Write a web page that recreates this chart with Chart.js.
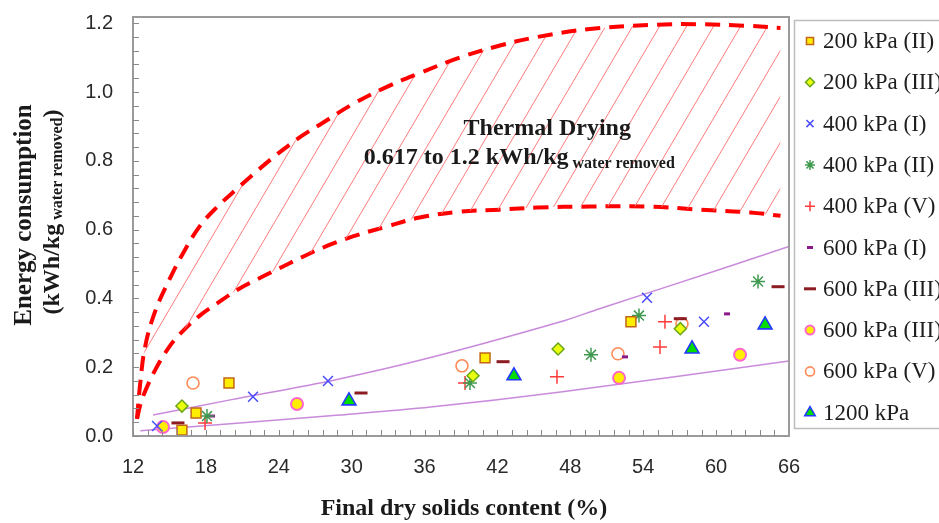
<!DOCTYPE html>
<html>
<head>
<meta charset="utf-8">
<script src="https://cdn.jsdelivr.net/npm/chart.js"></script>
<style>
  html, body { margin: 0; padding: 0; background: #fff; }
  #wrap { width: 939px; height: 523px; position: relative; }
</style>
</head>
<body>
<div id="wrap"><canvas id="chart"></canvas></div>
<script>
// Axis ticks
const xTicks = [12, 18, 24, 30, 36, 42, 48, 54, 60, 66];
const yTicks = [0, 0.2, 0.4, 0.6, 0.8, 1.0, 1.2];

// Thermal drying band (red dashed bounds)
const bandX     = [12.33, 12.6, 13.0, 13.8, 15.0, 16.1, 17.5, 18.9, 20.6, 22.2, 23.9, 25.8, 27.6, 30.1, 32.9, 35.6, 38.9, 42.2, 45.3, 49.6, 54.6, 58.7, 62.8, 65.3];
const bandUpper = [0.05, 0.155, 0.26, 0.36, 0.455, 0.53, 0.61, 0.665, 0.72, 0.77, 0.82, 0.87, 0.91, 0.965, 1.015, 1.055, 1.10, 1.135, 1.16, 1.183, 1.195, 1.197, 1.192, 1.186];
const bandLower = [0.05, 0.09, 0.13, 0.19, 0.26, 0.305, 0.35, 0.385, 0.425, 0.455, 0.485, 0.518, 0.547, 0.58, 0.609, 0.635, 0.652, 0.658, 0.664, 0.667, 0.667, 0.658, 0.650, 0.640];

// Envelope lines (purple)
const envUpperX = [13.65, 20.0, 28.6, 36.5, 47.2, 50.4, 60.3, 66.0];
const envUpperY = [0.061, 0.105, 0.163, 0.228, 0.332, 0.370, 0.484, 0.551];
const envLowerX = [12.6, 29.0, 36.5, 47.2, 66.0];
const envLowerY = [0.015, 0.061, 0.084, 0.128, 0.218];

// Measured points
const p200_II   = [[16.03, 0.017], [17.19, 0.067], [19.90, 0.154], [40.98, 0.227], [52.99, 0.332]];
const p200_III  = [[16.03, 0.087], [39.99, 0.175], [46.99, 0.253], [57.05, 0.312]];
const p400_I    = [[13.98, 0.029], [21.88, 0.114], [28.05, 0.160], [54.31, 0.402], [59.00, 0.332]];
const p400_II   = [[18.09, 0.058], [39.74, 0.154], [49.70, 0.236], [53.65, 0.350], [63.45, 0.449]];
const p400_V    = [[17.93, 0.038], [39.33, 0.154], [46.90, 0.172], [55.38, 0.259], [55.79, 0.332]];
const p600_I    = [[18.50, 0.058], [52.50, 0.230], [60.90, 0.355]];
const p600_IIIa = [[15.70, 0.038], [30.77, 0.125], [42.46, 0.216], [57.05, 0.341], [65.10, 0.434]];
const p600_IIIb = [[14.47, 0.026], [25.50, 0.093], [52.01, 0.169], [61.97, 0.236]];
const p600_V    = [[16.94, 0.154], [39.08, 0.204], [51.92, 0.239], [57.19, 0.326]];
const p1200     = [[29.78, 0.102], [43.36, 0.175], [58.02, 0.253], [64.03, 0.323]];

const toXY = (xs, ys) => xs.map((x, i) => ({ x: x, y: ys[i] }));
const pairs = arr => arr.map(p => ({ x: p[0], y: p[1] }));

// hatch pattern for the thermal drying band
function hatchPattern() {
    const w = 27, h = 46;
    const c = document.createElement('canvas');
    c.width = w; c.height = h;
    const g = c.getContext('2d');
    g.strokeStyle = '#ff7a7a';
    g.lineWidth = 1;
    for (let k = -1; k <= 1; k++) {
        g.beginPath();
        g.moveTo(k * w - w, 2 * h);
        g.lineTo(k * w + 2 * w, -h);
        g.stroke();
    }
    return g.createPattern(c, 'repeat');
}

const scatterDefs = [
    { label: '200 kPa (II)',  data: p200_II,   style: 'rect',     r: 7, lr: 5,   fill: '#ffee00', line: '#c0661a', bw: 1.5 },
    { label: '200 kPa (III)', data: p200_III,  style: 'rectRot',  r: 6, lr: 4.5, fill: '#e8ff10', line: '#6aa618', bw: 1.5 },
    { label: '400 kPa (I)',   data: p400_I,    style: 'crossRot', r: 7, lr: 5,   fill: '#4a4aff', line: '#4a4aff', bw: 1.5 },
    { label: '400 kPa (II)',  data: p400_II,   style: 'star',     r: 7, lr: 5,   fill: '#3f9a4f', line: '#3f9a4f', bw: 1.5 },
    { label: '400 kPa (V)',   data: p400_V,    style: 'cross',    r: 7, lr: 5,   fill: '#ff3b3b', line: '#ff3b3b', bw: 1.5 },
    { label: '600 kPa (I)',   data: p600_I,    style: 'line',     r: 3, lr: 3,   fill: '#8a1a8a', line: '#8a1a8a', bw: 3 },
    { label: '600 kPa (III)', data: p600_IIIa, style: 'line',     r: 6.5, lr: 6, fill: '#8c1c22', line: '#8c1c22', bw: 3 },
    { label: '600 kPa (III)', data: p600_IIIb, style: 'circle',   r: 6, lr: 4.5, fill: '#ffee00', line: '#ff66cc', bw: 2 },
    { label: '600 kPa (V)',   data: p600_V,    style: 'circle',   r: 6, lr: 4.5, fill: '#ffffff', line: '#ff8a55', bw: 1.6 },
    { label: '1200 kPa',      data: p1200,     style: 'triangle', r: 8, lr: 6,   fill: '#00dd00', line: '#2438ff', bw: 1.6 }
];

const datasets = [
    {
        label: 'upper', data: toXY(bandX, bandUpper), showLine: true,
        borderColor: '#ff0000', borderWidth: 4, borderDash: [15, 9], tension: 0.4,
        pointRadius: 0, fill: '+1', backgroundColor: hatchPattern(), order: 3
    },
    {
        label: 'lower', data: toXY(bandX, bandLower), showLine: true,
        borderColor: '#ff0000', borderWidth: 4, borderDash: [15, 9], tension: 0.4,
        pointRadius: 0, fill: false, order: 3
    },
    {
        label: 'envU', data: toXY(envUpperX, envUpperY), showLine: true,
        borderColor: 'rgba(195,125,215,0.9)', borderWidth: 1.5, tension: 0.3,
        pointRadius: 0, fill: false, order: 2
    },
    {
        label: 'envL', data: toXY(envLowerX, envLowerY), showLine: true,
        borderColor: 'rgba(195,125,215,0.9)', borderWidth: 1.5, tension: 0.3,
        pointRadius: 0, fill: false, order: 2
    }
];
scatterDefs.forEach(d => {
    datasets.push({
        label: d.label, data: pairs(d.data), showLine: false, fill: false,
        pointStyle: d.style, pointRadius: d.r, pointHoverRadius: d.r,
        backgroundColor: d.fill, borderColor: d.line, pointBorderWidth: d.bw, borderWidth: d.bw,
        order: 1
    });
});

// frame, inner ticks, titles, annotation and legend
const decor = {
    id: 'decor',
    afterDraw(chart) {
        const ctx = chart.ctx;
        const a = chart.chartArea;
        const xs = chart.scales.x, ys = chart.scales.y;
        ctx.save();

        // frame
        ctx.strokeStyle = '#9a9a9a';
        ctx.lineWidth = 2;
        ctx.strokeRect(a.left, a.top, a.right - a.left, a.bottom - a.top);

        // minor ticks inward
        ctx.strokeStyle = '#8a8a8a';
        ctx.lineWidth = 1;
        ctx.beginPath();
        for (let i = 0; i < yTicks.length - 1; i++) {
            for (let k = 0; k < 5; k++) {
                const v = yTicks[i] + (yTicks[i + 1] - yTicks[i]) * k / 5;
                const py = Math.round(ys.getPixelForValue(v)) + 0.5;
                ctx.moveTo(a.left, py); ctx.lineTo(a.left + 6, py);
            }
        }
        const py12 = Math.round(ys.getPixelForValue(yTicks[yTicks.length - 1])) + 0.5;
        ctx.moveTo(a.left, py12); ctx.lineTo(a.left + 6, py12);
        for (let i = 0; i < xTicks.length - 1; i++) {
            for (let k = 0; k < 5; k++) {
                const v = xTicks[i] + (xTicks[i + 1] - xTicks[i]) * k / 5;
                const px = Math.round(xs.getPixelForValue(v)) + 0.5;
                ctx.moveTo(px, a.bottom); ctx.lineTo(px, a.bottom - 6);
            }
        }
        ctx.stroke();

        ctx.fillStyle = '#1a1a1a';
        // x title
        ctx.font = 'bold 24px "Liberation Serif", "Times New Roman", serif';
        ctx.textAlign = 'center';
        ctx.textBaseline = 'middle';
        ctx.fillText('Final dry solids content (%)', 464, 509);

        // y title
        ctx.save();
        ctx.translate(25, 215);
        ctx.rotate(-Math.PI / 2);
        ctx.font = 'bold 25px "Liberation Serif", "Times New Roman", serif';
        ctx.fillText('Energy consumption', 0, 0);
        ctx.restore();

        ctx.save();
        ctx.translate(53, 212);
        ctx.rotate(-Math.PI / 2);
        const big = 'bold 24px "Liberation Serif", "Times New Roman", serif';
        const small = 'bold 16px "Liberation Serif", "Times New Roman", serif';
        ctx.font = big; const w1 = ctx.measureText('(kWh/kg').width; const w3 = ctx.measureText(')').width;
        ctx.font = small; const w2 = ctx.measureText(' water removed').width;
        let cx = -(w1 + w2 + w3) / 2;
        ctx.textAlign = 'left';
        ctx.font = big; ctx.fillText('(kWh/kg', cx, 0); cx += w1;
        ctx.font = small; ctx.fillText(' water removed', cx, 5); cx += w2;
        ctx.font = big; ctx.fillText(')', cx, 0);
        ctx.restore();

        // annotation
        ctx.textAlign = 'center';
        ctx.textBaseline = 'alphabetic';
        ctx.font = 'bold 24px "Liberation Serif", "Times New Roman", serif';
        ctx.fillText('Thermal Drying', xs.getPixelForValue(46.1), ys.getPixelForValue(0.875));
        ctx.textAlign = 'left';
        const lx = xs.getPixelForValue(31.0), ly = ys.getPixelForValue(0.79);
        ctx.fillText('0.617 to 1.2 kWh/kg', lx, ly);
        const lw = ctx.measureText('0.617 to 1.2 kWh/kg').width;
        ctx.font = 'bold 16px "Liberation Serif", "Times New Roman", serif';
        ctx.fillText(' water removed', lx + lw, ly + 4);

        // legend
        ctx.strokeStyle = '#bdbdbd';
        ctx.lineWidth = 1.5;
        ctx.strokeRect(794.5, 20.5, 160, 408);
        const drawPoint = Chart.helpers && Chart.helpers.drawPoint;
        scatterDefs.forEach((d, i) => {
            const y = 41 + i * 41.3;
            ctx.fillStyle = d.fill;
            ctx.strokeStyle = d.line;
            ctx.lineWidth = d.bw;
            if (drawPoint) {
                drawPoint(ctx, { pointStyle: d.style, radius: d.lr, borderWidth: d.bw, rotation: 0 }, 810, y);
            }
            ctx.fillStyle = '#1e1e1e';
            ctx.font = '23px "Liberation Serif", "Times New Roman", serif';
            ctx.textAlign = 'left';
            ctx.textBaseline = 'middle';
            ctx.fillText(d.label, 823, y + 1);
        });
        ctx.restore();
    }
};

// drop the label overflow padding so the layout padding sets the frame
function fixPadding(s) {
    s.paddingTop = 0; s.paddingBottom = 0; s.paddingLeft = 0; s.paddingRight = 0;
}

new Chart(document.getElementById('chart'), {
    type: 'line',
    data: { datasets: datasets },
    options: {
        responsive: true,
        maintainAspectRatio: false,
        animation: false,
        devicePixelRatio: 1,
        layout: { padding: { top: 17, right: 150, left: 0, bottom: 0 } },
        plugins: { legend: { display: false }, tooltip: { enabled: false } },
        scales: {
            x: {
                type: 'linear', min: 12, max: 66,
                afterBuildTicks: s => { s.ticks = xTicks.map(v => ({ value: v })); },
                afterFit: s => { s.height = 87; fixPadding(s); },
                grid: { display: false, drawTicks: false },
                border: { color: '#777', width: 2 },
                ticks: {
                    padding: 19, color: '#2a2a2a',
                    font: { family: '"Liberation Sans", Arial, sans-serif', size: 20 },
                    maxRotation: 0
                }
            },
            y: {
                type: 'linear', min: 0, max: 1.218,
                afterBuildTicks: s => { s.ticks = yTicks.map(v => ({ value: v })); },
                afterFit: s => { s.width = 133; fixPadding(s); },
                grid: { display: false, drawTicks: false },
                border: { color: '#777', width: 2 },
                ticks: {
                    padding: 20, color: '#2a2a2a',
                    font: { family: '"Liberation Sans", Arial, sans-serif', size: 20 },
                    callback: v => v.toFixed(1)
                }
            }
        }
    },
    plugins: [decor]
});
</script>
</body>
</html>
